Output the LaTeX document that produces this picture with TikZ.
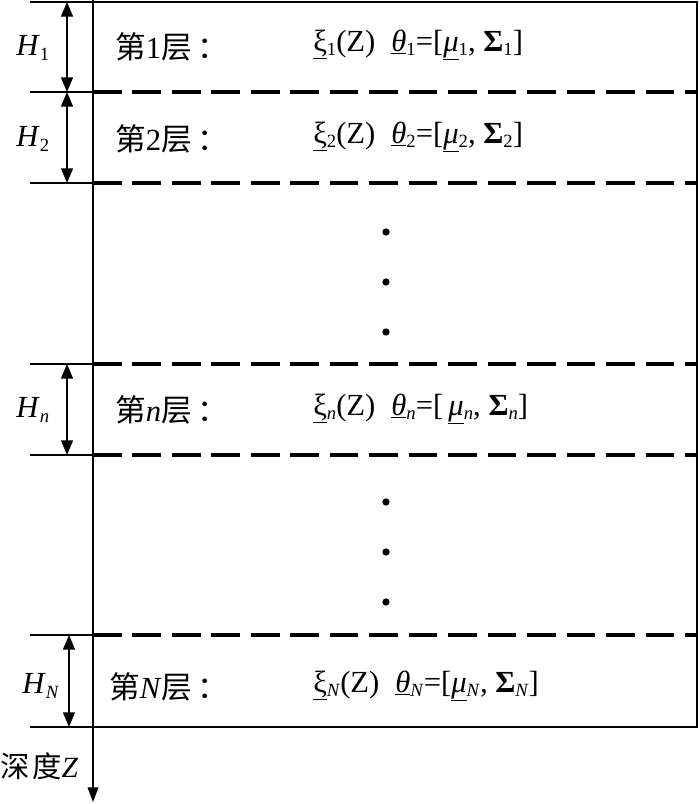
\documentclass[tikz,border=0pt]{standalone}
\usepackage{fontspec}
\setmainfont{Liberation Serif}
\newfontfamily\cjk{Noto Sans CJK SC}
\usetikzlibrary{arrows.meta}
\newcommand{\mysub}[1]{\raisebox{-0.3ex}{\fontsize{14}{14}\selectfont #1}}
\begin{document}
\begin{tikzpicture}[x=0.75pt,y=-0.75pt,
  thinl/.style={line width=1.1pt},
  dashl/.style={line width=2.6pt,dash pattern=on 21.5pt off 8.1pt},
  harrow/.style={line width=1.1pt,{Triangle[length=11pt,width=9pt]}-{Triangle[length=11pt,width=9pt]}},
  lbl/.style={anchor=west,inner sep=0pt,font=\fontsize{23}{26}\selectfont},
  dotn/.style={circle,fill=black,inner sep=0pt,minimum size=5.5pt}]
\useasboundingbox (0,0) rectangle (700,804);
% coordinates
\coordinate (tl) at (30,2);
\coordinate (ax) at (93,0);
\coordinate (axe) at (93,802);
\coordinate (tr) at (697,2);
\coordinate (bl) at (30,727);
\coordinate (br) at (697,727);
% frame
\draw[thinl] (tl) -- (tr) -- (br) -- (bl);
\draw[line width=1.1pt,-{Triangle[length=11pt,width=8pt]}] (ax) -- (axe);
% layer lines
\foreach \yy/\nm in {92/a,183/b,364/c,455/d,635/e}{
  \coordinate (s\nm) at (30,\yy);
  \coordinate (m\nm) at (93,\yy);
  \coordinate (e\nm) at (697,\yy);
  \draw[thinl] (s\nm) -- (m\nm);
  \draw[dashl] (m\nm) -- (e\nm);
}
% thickness arrows
\coordinate (h1t) at (67,2); \coordinate (h1b) at (67,92);
\coordinate (h2t) at (67,92); \coordinate (h2b) at (67,183);
\coordinate (hnt) at (67,364); \coordinate (hnb) at (67,455);
\coordinate (hNt) at (69,635); \coordinate (hNb) at (69,727);
\draw[harrow] (h1t) -- (h1b);
\draw[harrow] (h2t) -- (h2b);
\draw[harrow] (hnt) -- (hnb);
\draw[harrow] (hNt) -- (hNb);
% H labels
\node[lbl] (H1) at (16,48) {\textit{H}\mysub{1}};
\node[lbl] (H2) at (16,139) {\textit{H}\mysub{2}};
\node[lbl] (Hn) at (16,410) {\textit{H}\mysub{\textit{n}}};
\node[lbl] (HN) at (22,686) {\textit{H}\mysub{\textit{N}}};
% layer labels
\node[lbl] (L1) at (115,47) {{\cjk 第}1{\cjk 层}\hspace{4pt}{\cjk ：}};
\node[lbl] (L2) at (115,139) {{\cjk 第}2{\cjk 层}\hspace{4pt}{\cjk ：}};
\node[lbl] (Ln) at (115,410) {{\cjk 第}\textit{n}{\cjk 层}\hspace{4pt}{\cjk ：}};
\node[lbl] (LN) at (109,687) {{\cjk 第}\textit{N}{\cjk 层}\hspace{4pt}{\cjk ：}};
% formulas
\node[lbl] (F1) at (313,45) {\underline{ξ}\mysub{1}(Z)\hspace{12pt}\underline{\textit{θ}}\mysub{1}=[\underline{\textit{μ}}\mysub{1}, \textbf{Σ}\mysub{1}]};
\node[lbl] (F2) at (313,137) {\underline{ξ}\mysub{2}(Z)\hspace{12pt}\underline{\textit{θ}}\mysub{2}=[\underline{\textit{μ}}\mysub{2}, \textbf{Σ}\mysub{2}]};
\node[lbl] (Fn) at (313,409) {\underline{ξ}\mysub{\textit{n}}(Z)\hspace{12pt}\underline{\textit{θ}}\mysub{\textit{n}}=[\,\underline{\textit{μ}}\mysub{\textit{n}}, \textbf{Σ}\mysub{\textit{n}}]};
\node[lbl] (FN) at (313,686) {\underline{ξ}\mysub{\textit{N}}(Z)\hspace{12pt}\underline{\textit{θ}}\mysub{\textit{N}}=[\underline{\textit{μ}}\mysub{\textit{N}}, \textbf{Σ}\mysub{\textit{N}}]};
% dots
\foreach \yy in {232,282,332,502,552,602}{ \node[dotn] at (386,\yy) {}; }
% depth label
\node[lbl,font=\fontsize{22}{24}\selectfont] (dep) at (0,766) {{\cjk 深\hspace{2pt}度}\textit{Z}};
\end{tikzpicture}
\end{document}
